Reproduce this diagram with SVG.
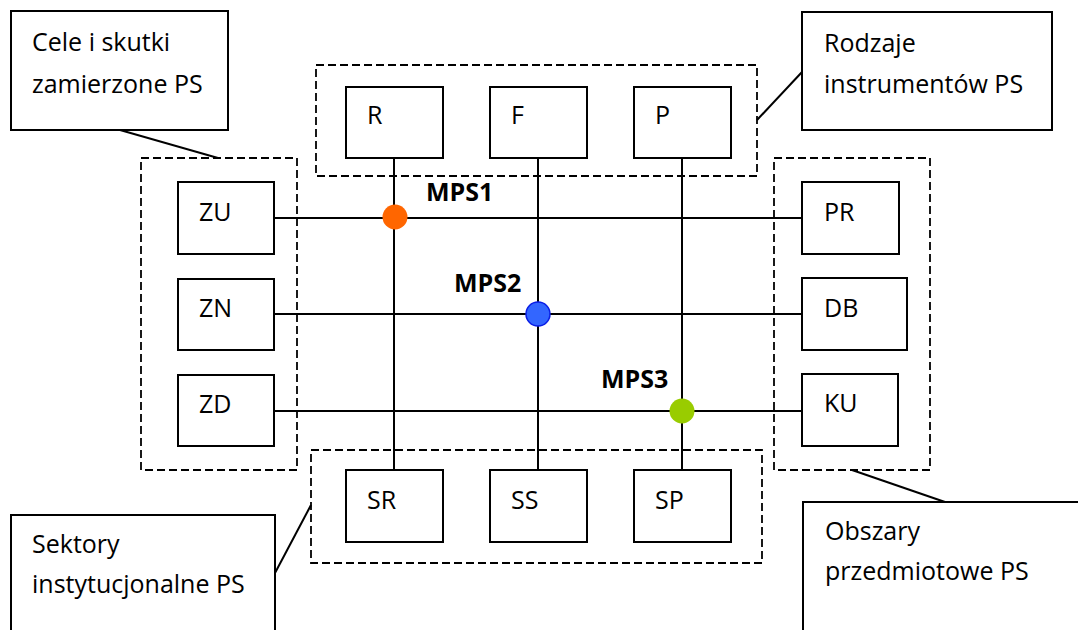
<svg xmlns="http://www.w3.org/2000/svg" width="1078" height="630" viewBox="0 0 1078 630">
<style>
.bg{fill:#fff}
.box{fill:#fff;stroke:#000;stroke-width:2}
.grp{fill:none;stroke:#000;stroke-width:1.8;stroke-dasharray:8 4}
.ln{stroke:#000;stroke-width:2;fill:none}
.t{font-family:"Open Sans","Noto Sans","Liberation Sans",sans-serif;font-size:25px;fill:#000}
.b{font-family:"Open Sans","Noto Sans","Liberation Sans",sans-serif;font-size:25px;font-weight:bold;fill:#000}
</style>
<rect class="bg" x="0" y="0" width="1078" height="630"/>
<g id="groups">
<rect id="grp-left" class="grp" x="141" y="158" width="156" height="312"/>
<rect id="grp-top" class="grp" x="316" y="65" width="441" height="111"/>
<rect id="grp-right" class="grp" x="774" y="158" width="156" height="312"/>
<rect id="grp-bottom" class="grp" x="311" y="450" width="451" height="113"/>
</g>
<g id="connectors">
<line class="ln" x1="274" y1="218" x2="802" y2="218"/>
<line class="ln" x1="274" y1="314" x2="802" y2="314"/>
<line class="ln" x1="274" y1="411" x2="802" y2="411"/>
<line class="ln" x1="394" y1="158" x2="394" y2="470"/>
<line class="ln" x1="538" y1="158" x2="538" y2="470"/>
<line class="ln" x1="682" y1="158" x2="682" y2="470"/>
<line class="ln" x1="120" y1="130" x2="218" y2="158"/>
<line class="ln" x1="757" y1="120" x2="802" y2="72"/>
<line class="ln" x1="275" y1="573" x2="311" y2="505"/>
<line class="ln" x1="852" y1="470" x2="945" y2="502"/>
</g>
<g id="node-cele"><rect class="box" x="11" y="11" width="217" height="119"/><text class="t" x="32" y="51">Cele i skutki</text><text class="t" x="32" y="93">zamierzone PS</text></g>
<g id="node-rodzaje"><rect class="box" x="802" y="12" width="250" height="118"/><text class="t" x="824" y="52">Rodzaje</text><text class="t" x="824" y="93">instrumentów PS</text></g>
<g id="node-sektory"><rect class="box" x="11" y="515" width="264" height="130"/><text class="t" x="32" y="553">Sektory</text><text class="t" x="32" y="593">instytucjonalne PS</text></g>
<g id="node-obszary"><rect class="box" x="803" y="502" width="290" height="143"/><text class="t" x="825" y="540">Obszary</text><text class="t" x="825" y="580">przedmiotowe PS</text></g>
<g id="node-R"><rect class="box" x="346" y="87" width="97" height="71"/><text class="t" x="367" y="124">R</text></g>
<g id="node-F"><rect class="box" x="490" y="87" width="97" height="71"/><text class="t" x="511" y="124">F</text></g>
<g id="node-P"><rect class="box" x="634" y="87" width="97" height="71"/><text class="t" x="655" y="124">P</text></g>
<g id="node-ZU"><rect class="box" x="178" y="182" width="96" height="72"/><text class="t" x="199" y="221">ZU</text></g>
<g id="node-ZN"><rect class="box" x="178" y="279" width="96" height="71"/><text class="t" x="199" y="317">ZN</text></g>
<g id="node-ZD"><rect class="box" x="178" y="375" width="96" height="71"/><text class="t" x="199" y="413">ZD</text></g>
<g id="node-PR"><rect class="box" x="802" y="182" width="97" height="72"/><text class="t" x="824" y="221">PR</text></g>
<g id="node-DB"><rect class="box" x="802" y="278" width="105" height="72"/><text class="t" x="824" y="317">DB</text></g>
<g id="node-KU"><rect class="box" x="802" y="374" width="96" height="72"/><text class="t" x="824" y="412">KU</text></g>
<g id="node-SR"><rect class="box" x="346" y="470" width="97" height="72"/><text class="t" x="367" y="509">SR</text></g>
<g id="node-SS"><rect class="box" x="490" y="470" width="97" height="72"/><text class="t" x="511" y="509">SS</text></g>
<g id="node-SP"><rect class="box" x="634" y="470" width="97" height="72"/><text class="t" x="655" y="509">SP</text></g>
<g id="node-MPS1"><circle cx="395" cy="217" r="12.5" fill="#ff6600"/><text class="b" x="426" y="201">MPS1</text></g>
<g id="node-MPS2"><circle cx="538" cy="314" r="12" fill="#3366ff" stroke="#0a1ee6" stroke-width="1.5"/><text class="b" x="454" y="292">MPS2</text></g>
<g id="node-MPS3"><circle cx="682" cy="411" r="12.5" fill="#99cc00"/><text class="b" x="601" y="388">MPS3</text></g>
</svg>
